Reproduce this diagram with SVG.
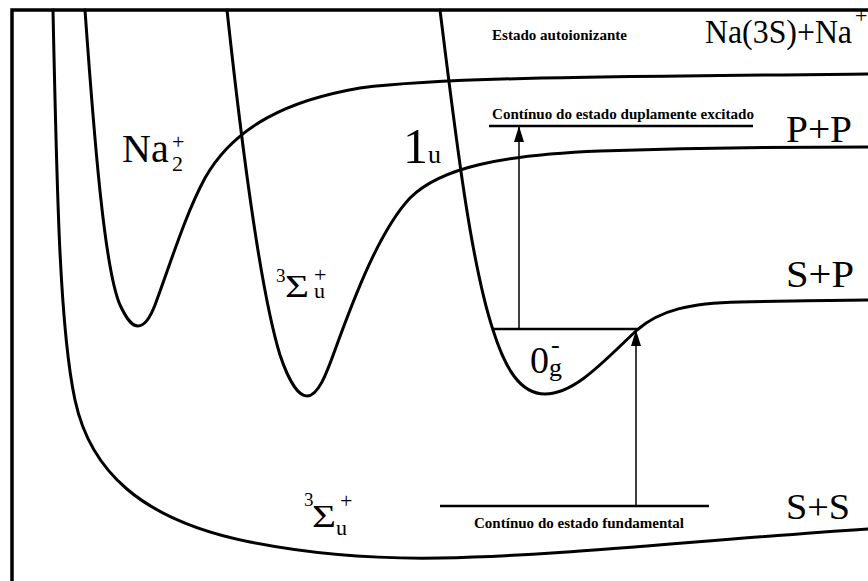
<svg xmlns="http://www.w3.org/2000/svg" width="868" height="581" viewBox="0 0 868 581">
<style>
.c{fill:none;stroke:#000;stroke-width:3;stroke-linecap:round;stroke-linejoin:round}
.f{fill:none;stroke:#000;stroke-width:3.5}
.lv{fill:none;stroke:#000;stroke-width:2.5}
.ar{fill:none;stroke:#000;stroke-width:1.5}
text{font-family:"Liberation Serif","Times New Roman",serif;fill:#000}
.sm{font-size:15px;font-weight:bold}
</style>
<defs>
<marker id="ah" viewBox="0 0 16 10" refX="16" refY="5" markerWidth="16" markerHeight="10" markerUnits="userSpaceOnUse" orient="auto">
<path d="M16,5 L0,0 L0,10 Z" fill="#000"/>
</marker>
</defs>
<rect width="868" height="581" fill="#fff"/>
<g id="frame">
<path class="f" d="M12,581 V10 H868"/>
</g>
<g id="curves">
<path id="curve-ground" class="c" d="M53,10 C57,200 60,330 75,400 C90,470 140,520 250,542 C320,556 380,559 440,558 C560,556 700,540 868,529"/>
<path id="curve-na2plus" class="c" d="M85,10 C95,150 105,270 120,305 C128,322 133,326 138,326 C145,326 150,318 155,305 C170,265 185,215 205,178 C235,125 290,100 360,88 C440,78 560,77 868,74"/>
<path id="curve-sigma" class="c" d="M227,10 C240,130 260,290 280,355 C290,385 300,396 307,396 C318,396 326,375 335,350 C355,295 380,230 410,198 C440,168 500,155 600,151 C700,148 800,147 868,147"/>
<path id="curve-0g" class="c" d="M440,10 C455,130 470,260 493,330 C505,368 520,394 545,394 C575,394 605,360 637,330 C660,310 690,303 740,302 C800,301 840,300 868,300"/>
</g>
<g id="levels">
<path class="lv" d="M493,329 H637"/>
<path class="lv" d="M489,126 H753"/>
<path class="lv" d="M440,506 H709"/>
</g>
<g id="connectors">
<path class="ar" d="M519,329 V126" marker-end="url(#ah)"/>
<path class="ar" d="M636,506 V330" marker-end="url(#ah)"/>
</g>
<g id="label-na2">
<text x="122" y="162" font-size="40">Na<tspan x="172" y="171" font-size="22">2</tspan><tspan x="172" y="149" font-size="22">+</tspan></text>
</g>
<g id="label-1u">
<text x="403" y="163" font-size="50">1<tspan x="428" font-size="26">u</tspan></text>
</g>
<g id="label-sigma-mid">
<text x="276" y="282" font-size="19">3<tspan x="285" y="297" font-size="32" textLength="24" lengthAdjust="spacingAndGlyphs">Σ</tspan><tspan x="314" y="298" font-size="22">u</tspan><tspan x="314" y="282" font-size="22">+</tspan></text>
</g>
<g id="label-sigma-low">
<text x="304" y="506" font-size="19">3<tspan x="312" y="527" font-size="32" textLength="24" lengthAdjust="spacingAndGlyphs">Σ</tspan><tspan x="336" y="535" font-size="22">u</tspan><tspan x="340" y="508" font-size="22">+</tspan></text>
</g>
<g id="label-0g">
<text x="530" y="373" font-size="38">0<tspan x="549" y="376" font-size="26">g</tspan><tspan x="551" y="353" font-size="26">-</tspan></text>
</g>
<g id="label-asymptotes">
<text x="705" y="43" font-size="33" textLength="147" lengthAdjust="spacingAndGlyphs">Na(3S)+Na</text>
<text x="855" y="23" font-size="22">+</text>
<text x="786" y="142" font-size="37" textLength="66" lengthAdjust="spacingAndGlyphs">P+P</text>
<text x="786" y="287" font-size="37" textLength="68" lengthAdjust="spacingAndGlyphs">S+P</text>
<text x="786" y="519" font-size="36" textLength="64" lengthAdjust="spacingAndGlyphs">S+S</text>
</g>
<g id="label-states">
<text class="sm" x="492" y="40" textLength="135" lengthAdjust="spacingAndGlyphs">Estado autoionizante</text>
<text class="sm" x="492" y="119" textLength="262" lengthAdjust="spacingAndGlyphs">Contínuo do estado duplamente excitado</text>
<text class="sm" x="474" y="528" textLength="210" lengthAdjust="spacingAndGlyphs">Contínuo do estado fundamental</text>
</g>
</svg>
